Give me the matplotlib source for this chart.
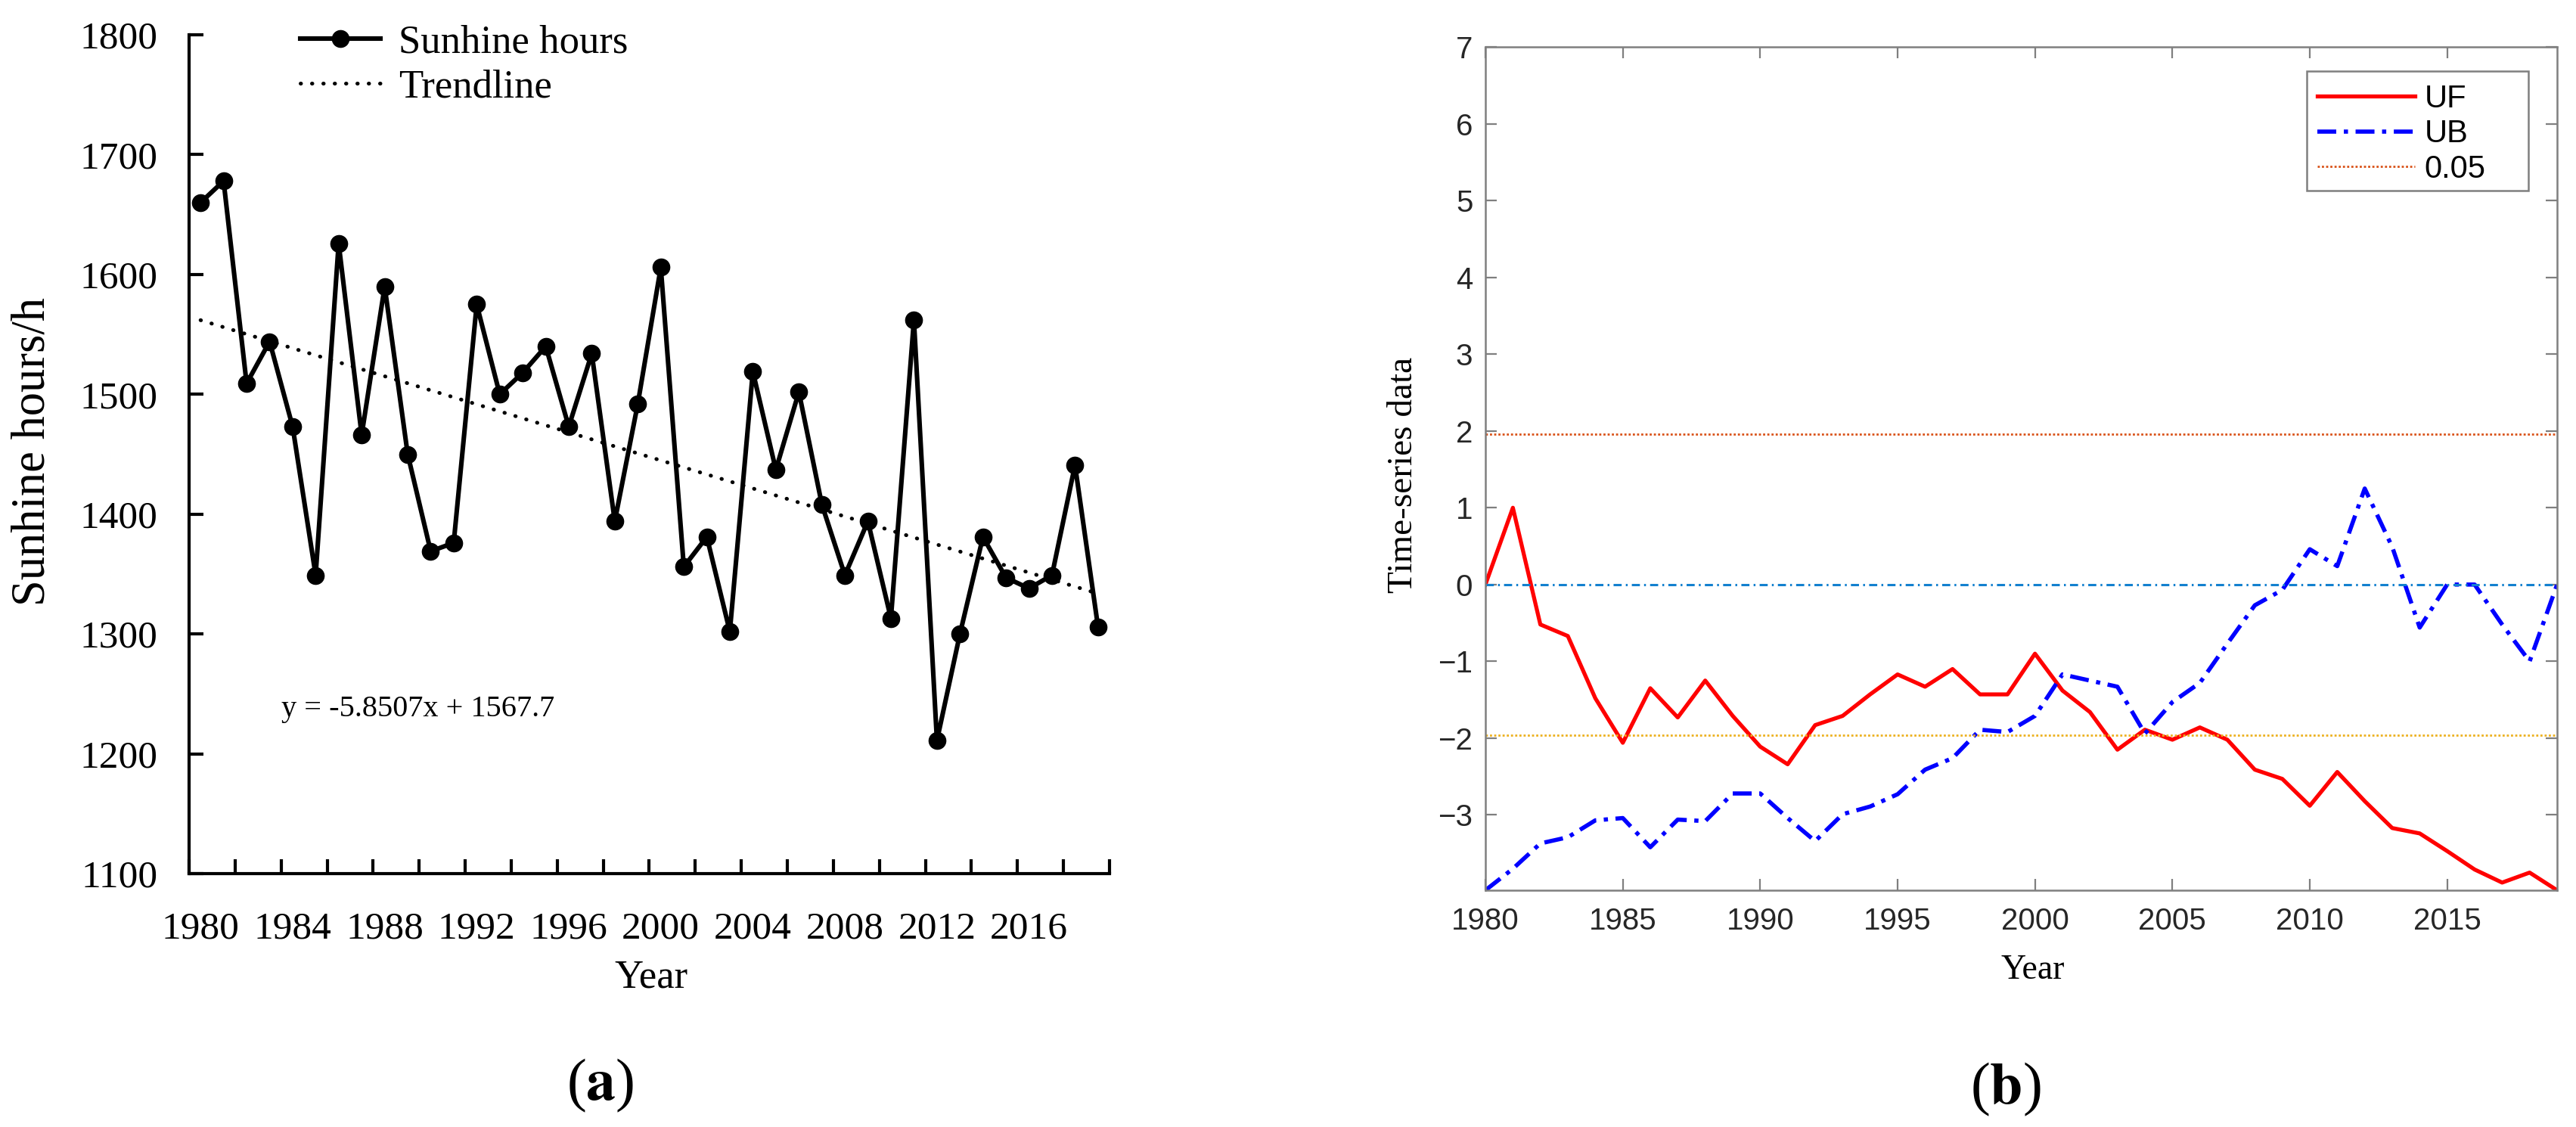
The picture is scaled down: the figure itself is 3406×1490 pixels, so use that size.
import numpy as np
import matplotlib
matplotlib.use('Agg')
import matplotlib.pyplot as plt
from matplotlib.patches import Rectangle

plt.rcParams['mathtext.fontset'] = 'stix'

W, H = 3406, 1490
SERIF = 'Liberation Serif'
SANS = 'Liberation Sans'

# ---- data ----
years = np.arange(1980, 2020)
sunshine = [1660, 1678, 1509, 1544, 1473, 1349, 1626, 1466, 1590, 1450,
            1369, 1376, 1575, 1500, 1518, 1540, 1473, 1534, 1394, 1492,
            1606, 1356, 1381, 1302, 1519, 1437, 1502, 1408, 1349, 1394,
            1313, 1562, 1211, 1300, 1381, 1347, 1338, 1349, 1441, 1306]
trend_slope = -5.8507
trend_icpt = 1567.7

uf = [0.00, 1.00, -0.52, -0.67, -1.48, -2.06, -1.35, -1.73, -1.25, -1.71,
      -2.11, -2.34, -1.83, -1.71, -1.43, -1.17, -1.33, -1.10, -1.43, -1.43,
      -0.90, -1.38, -1.66, -2.15, -1.89, -2.02, -1.86, -2.02, -2.41, -2.53,
      -2.88, -2.44, -2.82, -3.17, -3.24, -3.47, -3.71, -3.88, -3.75, -3.98]
ub = [-3.98, -3.70, -3.37, -3.29, -3.07, -3.04, -3.42, -3.06, -3.08, -2.72,
      -2.72, -3.04, -3.34, -2.99, -2.89, -2.73, -2.41, -2.26, -1.89, -1.92,
      -1.71, -1.17, -1.25, -1.33, -1.94, -1.53, -1.28, -0.77, -0.27, -0.07,
      0.46, 0.24, 1.25, 0.49, -0.56, 0.00, 0.00, -0.52, -1.00, 0.00]
crit = 1.96

a_yticks = list(range(1100, 1801, 100))
a_xlabels = list(range(1980, 2017, 4))
b_xticks = list(range(1980, 2016, 5))
b_yticks = list(range(-3, 8))


def px(x0, y0, x1, y1):
    # pixel box (top-left origin) -> figure fraction rect
    return [x0 / W, 1 - y1 / H, (x1 - x0) / W, (y1 - y0) / H]


fig = plt.figure(figsize=(W / 100, H / 100), dpi=100)

# ================= panel (a) =================
ax1 = fig.add_axes(px(250, 46, 1467, 1155))
ax1.plot(years, sunshine, color='k', lw=4.4, marker='o', ms=16,
         label='Sunhine hours')
trend = trend_slope * np.arange(1, len(years) + 1) + trend_icpt
ax1.plot(years, trend, color='k', lw=3.6, ls=(0, (0.1, 2.9)),
         dash_capstyle='round', label='Trendline')

ax1.set_xlim(1979.5, 2019.5)
ax1.set_ylim(1100, 1800)
ax1.set_yticks(a_yticks)
ax1.set_xticks(a_xlabels)
ax1.set_xticks(np.arange(1979.5, 2019.6, 2), minor=True)
ax1.tick_params(axis='y', direction='in', length=14, width=3, pad=30,
                labelsize=37)
ax1.tick_params(axis='x', which='major', length=0, pad=36, labelsize=37)
ax1.tick_params(axis='x', which='minor', direction='in', length=14, width=3)
for lab in ax1.get_xticklabels() + ax1.get_yticklabels():
    lab.set_fontfamily(SERIF)
for s in ['top', 'right']:
    ax1.spines[s].set_visible(False)
for s in ['left', 'bottom']:
    ax1.spines[s].set_linewidth(3)

ax1.text(0.100, 0.196, 'y = -5.8507x + 1567.7', transform=ax1.transAxes,
         ha='left', va='center', fontsize=29, family=SERIF)

leg1 = ax1.legend(loc='upper left', bbox_to_anchor=(0.121, 1.012),
                  frameon=False, prop={'family': SERIF, 'size': 38},
                  handlelength=2.0, handletextpad=0.45, labelspacing=0.2,
                  borderpad=0, borderaxespad=0)

fig.text(44 / W, 1 - 597 / H, 'Sunhine hours/h', rotation=90, ha='center',
         va='center', fontsize=45, family=SERIF)
fig.text(861 / W, 1 - 1292 / H, 'Year', ha='center', va='center',
         fontsize=38, family=SERIF)
fig.text(794 / W, 1 - 1435 / H, r'($\mathbf{a}$)', ha='center', va='center',
         fontsize=56, family=SERIF)

# ================= panel (b) =================
gray = '#7f7f7f'
ax2 = fig.add_axes(px(1964, 62, 3381, 1177))
ax2.plot(years, uf, color='red', lw=3.8, label='UF')
ax2.plot(years, ub, color='blue', lw=4.0, ls=(0, (4.5, 1.8, 1, 1.8)),
         label='UB')
ax2.axhline(crit, color='#D95319', lw=2, ls=(0, (1, 1)), label='0.05')
ax2.axhline(-crit, color='#EDB120', lw=2, ls=(0, (1, 1)))
ax2.axhline(0, color='#1380cf', lw=2.2, ls=(0, (3.5, 1.8, 0.8, 1.8)))

ax2.set_xlim(1980, 2019)
ax2.set_ylim(-3.98, 7)
ax2.set_xticks(b_xticks)
ax2.set_yticks(b_yticks)
ax2.tick_params(direction='in', length=11, width=1.6, color=gray,
                top=True, right=True, labelsize=29, labelcolor='#262626')
ax2.tick_params(axis='y', pad=12)
ax2.tick_params(axis='x', pad=16)
for lab in ax2.get_xticklabels() + ax2.get_yticklabels():
    lab.set_fontfamily(SANS)
for s in ax2.spines.values():
    s.set_color(gray)
    s.set_linewidth(1.8)

# MATLAB-like legend box, wider than its contents
box = Rectangle((0.7664, 0.8296), 0.9732 - 0.7664, 0.9713 - 0.8296,
                transform=ax2.transAxes, facecolor='white', edgecolor=gray,
                lw=1.8, zorder=5)
ax2.add_patch(box)
leg2 = ax2.legend(loc='upper left', bbox_to_anchor=(0.7763, 0.956),
                  prop={'family': SANS, 'size': 30}, frameon=False,
                  handlelength=3.1, handletextpad=0.3, labelspacing=0.15,
                  borderpad=0, borderaxespad=0)
leg2.set_zorder(6)

fig.text(1856 / W, 1 - 628 / H, 'Time-series data', rotation=90,
         ha='center', va='center', fontsize=34, family=SERIF)
fig.text(2688 / W, 1 - 1283 / H, 'Year', ha='center', va='center',
         fontsize=33, family=SERIF)
fig.text(2652 / W, 1 - 1440 / H, r'($\mathbf{b}$)', ha='center', va='center',
         fontsize=56, family=SERIF)

fig.savefig('out.png', dpi=100)
